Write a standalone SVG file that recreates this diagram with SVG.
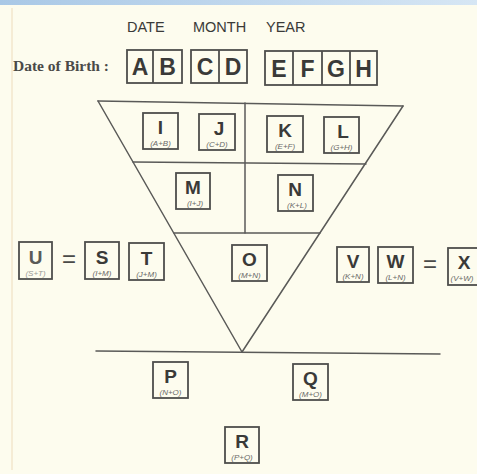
<svg xmlns="http://www.w3.org/2000/svg" width="477" height="474" viewBox="0 0 477 474">
<defs>
<linearGradient id="topbar" x1="0" y1="0" x2="1" y2="0">
<stop offset="0" stop-color="#a9c8e6"/>
<stop offset="1" stop-color="#d6e6f4"/>
</linearGradient>
<style>
.ln{stroke:#5a5a58;stroke-width:1.5;fill:none;stroke-linecap:round}
.bx{fill:none;stroke:#4e4e4c;stroke-width:1.8}
.big{font-family:"Liberation Sans",Arial,sans-serif;font-weight:bold;font-size:23px;fill:#3a3a38;text-anchor:middle}
.let{font-family:"Liberation Sans",Arial,sans-serif;font-weight:bold;font-size:19px;fill:#3a3a38;text-anchor:middle}
.sub{font-family:"Liberation Sans",Arial,sans-serif;font-style:italic;font-size:8px;fill:#6a6a68;text-anchor:middle}
.hd{font-family:"Liberation Sans",Arial,sans-serif;font-size:14.5px;fill:#3a3a38}
.dob{font-family:"Liberation Serif","Times New Roman",serif;font-weight:bold;font-size:15.5px;fill:#4a4a48}
.eq{font-family:"Liberation Sans",Arial,sans-serif;font-size:24px;fill:#4a4a48;text-anchor:middle}
</style>
</defs>
<rect width="477" height="474" fill="#fdfcee"/>
<rect width="477" height="5" fill="url(#topbar)"/>
<line x1="12" y1="8" x2="12" y2="470" stroke="#eedcbc" stroke-width="1"/>

<g id="header">
<text class="hd" x="127" y="32">DATE</text>
<text class="hd" x="193" y="32">MONTH</text>
<text class="hd" x="266" y="32">YEAR</text>
<text class="dob" x="13" y="71">Date of Birth :</text>
</g>

<g id="dob-date">
<rect class="bx" x="127" y="50" width="55" height="33"/>
<line class="bx" x1="153" y1="50" x2="153" y2="83"/>
<text class="big" x="140" y="75">A</text>
<text class="big" x="167.5" y="75">B</text>
</g>
<g id="dob-month">
<rect class="bx" x="191" y="50" width="56" height="33"/>
<line class="bx" x1="219" y1="50" x2="219" y2="83"/>
<text class="big" x="205" y="75">C</text>
<text class="big" x="233" y="75">D</text>
</g>
<g id="dob-year">
<rect class="bx" x="265" y="51" width="112" height="34"/>
<line class="bx" x1="293" y1="51" x2="293" y2="85"/>
<line class="bx" x1="322" y1="51" x2="322" y2="85"/>
<line class="bx" x1="350" y1="51" x2="350" y2="85"/>
<text class="big" x="279" y="77">E</text>
<text class="big" x="307.5" y="77">F</text>
<text class="big" x="336" y="77">G</text>
<text class="big" x="363.5" y="77">H</text>
</g>

<g id="connectors">
<line class="ln" x1="98" y1="101" x2="403" y2="106"/>
<line class="ln" x1="98" y1="101" x2="242" y2="352"/>
<line class="ln" x1="403" y1="106" x2="242" y2="352"/>
<line class="ln" x1="133" y1="162" x2="366" y2="164"/>
<line class="ln" x1="174" y1="233" x2="320" y2="233"/>
<line class="ln" x1="245" y1="103" x2="245" y2="233"/>
<line class="ln" x1="96" y1="351" x2="440" y2="354"/>
</g>

<g id="node-I"><rect class="bx" x="143" y="113" width="35" height="36"/><text class="let" x="160.5" y="134">I</text><text class="sub" x="160.5" y="146">(A+B)</text></g>
<g id="node-J"><rect class="bx" x="199" y="114" width="36" height="36"/><text class="let" x="219" y="135">J</text><text class="sub" x="217" y="147">(C+D)</text></g>
<g id="node-K"><rect class="bx" x="267" y="116" width="36" height="36"/><text class="let" x="285" y="137">K</text><text class="sub" x="285" y="149">(E+F)</text></g>
<g id="node-L"><rect class="bx" x="324" y="117" width="35" height="36"/><text class="let" x="343" y="138">L</text><text class="sub" x="341.5" y="150">(G+H)</text></g>
<g id="node-M"><rect class="bx" x="176" y="173" width="34" height="36"/><text class="let" x="193" y="194">M</text><text class="sub" x="195" y="206">(I+J)</text></g>
<g id="node-N"><rect class="bx" x="278" y="175" width="35" height="36"/><text class="let" x="295" y="196">N</text><text class="sub" x="297" y="208">(K+L)</text></g>
<g id="node-O"><rect class="bx" x="232" y="245" width="35" height="36"/><text class="let" x="249.5" y="266">O</text><text class="sub" x="249.5" y="278">(M+N)</text></g>

<g id="node-U"><rect class="bx" x="19" y="242" width="33" height="37"/><text class="let" x="35.5" y="264" style="fill:#5a5a58">U</text><text class="sub" x="35.5" y="276" style="fill:#9a9a96">(S+T)</text></g>
<g id="eq-left"><text class="eq" x="69" y="267">=</text></g>
<g id="node-S"><rect class="bx" x="85" y="242" width="34" height="37"/><text class="let" x="102" y="264">S</text><text class="sub" x="102" y="276">(I+M)</text></g>
<g id="node-T"><rect class="bx" x="129" y="243" width="35" height="37"/><text class="let" x="146.5" y="265">T</text><text class="sub" x="146.5" y="277">(J+M)</text></g>

<g id="node-V"><rect class="bx" x="337" y="247" width="32" height="35"/><text class="let" x="353" y="268">V</text><text class="sub" x="353" y="279">(K+N)</text></g>
<g id="node-W"><rect class="bx" x="378" y="247" width="35" height="36"/><text class="let" x="395.5" y="268">W</text><text class="sub" x="395.5" y="280">(L+N)</text></g>
<g id="eq-right"><text class="eq" x="430" y="272">=</text></g>
<g id="node-X"><rect class="bx" x="448" y="248" width="36" height="37"/><text class="let" x="464" y="269">X</text><text class="sub" x="462" y="281">(V+W)</text></g>

<g id="node-P"><rect class="bx" x="153" y="362" width="35" height="36"/><text class="let" x="170.5" y="383">P</text><text class="sub" x="170.5" y="395">(N+O)</text></g>
<g id="node-Q"><rect class="bx" x="293" y="364" width="35" height="36"/><text class="let" x="310.5" y="385">Q</text><text class="sub" x="310.5" y="397">(M+O)</text></g>
<g id="node-R"><rect class="bx" x="225" y="427" width="34" height="36"/><text class="let" x="242" y="448">R</text><text class="sub" x="242" y="460">(P+Q)</text></g>
</svg>
